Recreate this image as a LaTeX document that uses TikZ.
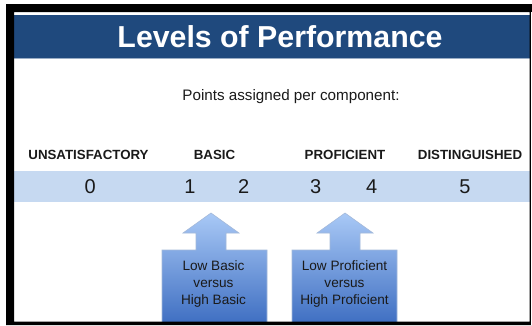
\documentclass[tikz,border=0pt]{standalone}
\usepackage{fontspec}
\setmainfont{Liberation Sans}
\definecolor{titleblue}{HTML}{1F497D}
\definecolor{bandblue}{HTML}{C6D9F1}
\definecolor{calltop}{HTML}{A9C9F6}
\definecolor{callbot}{HTML}{3F6FC2}
\definecolor{calledge}{HTML}{A3B9DA}
\definecolor{inktext}{HTML}{1A1A1A}
\tikzset{
  heading/.style={font=\fontsize{13.3}{15}\selectfont\bfseries, text=inktext, inner sep=0pt},
  score/.style={font=\fontsize{20}{22}\selectfont, text=inktext, inner sep=0pt},
  callout/.style={top color=calltop, bottom color=callbot, draw=calledge, line width=0.6pt, line join=miter},
  calltext/.style={font=\fontsize{13.6}{16.8}\selectfont, text=inktext, align=center, inner sep=0pt}
}
\begin{document}
\begin{tikzpicture}[x=1pt,y=-1pt]
\useasboundingbox (0,0) rectangle (532,325);
\fill[white] (0,0) rectangle (532,325);

% title bar
\fill[titleblue] (14,15) rectangle (529.5,57.5);
\fill[titleblue!45!white] (14,57.5) rectangle (529.5,59);
\node[text=white, font=\fontsize{30.3}{33}\selectfont\bfseries, inner sep=0pt] (title) at (280,37) {Levels of Performance};

\node[font=\fontsize{15.2}{18}\selectfont, text=inktext, inner sep=0pt] (points) at (291,97) {Points assigned per component:};

% level headings
\node[heading] (unsat) at (88.5,154.5) {UNSATISFACTORY};
\node[heading] (basic) at (214.5,154.5) {BASIC};
\node[heading] (prof) at (345,154.5) {PROFICIENT};
\node[heading] (dist) at (470,154.5) {DISTINGUISHED};

% score band
\fill[bandblue] (14,171) rectangle (529.5,202);
\node[score] (s0) at (90.3,187) {0};
\node[score] (s1) at (190,187) {1};
\node[score] (s2) at (243.6,187) {2};
\node[score] (s3) at (315.6,187) {3};
\node[score] (s4) at (371.6,187) {4};
\node[score] (s5) at (464.9,187) {5};

% up-arrow callouts
\path[callout] (162,323) -- (162,250) -- (196,250) -- (196,233) -- (183,233)
  -- (211,213) -- (239,233) -- (226,233) -- (226,250) -- (267,250) -- (267,323) -- cycle;
\node[calltext] (lowbasic) at (213.5,284) {Low Basic\\versus\\High Basic};

\path[callout] (292,323) -- (292,250) -- (330,250) -- (330,233) -- (317,233)
  -- (345,213) -- (373,233) -- (360,233) -- (360,250) -- (397,250) -- (397,323) -- cycle;
\node[calltext] (lowprof) at (344.5,284) {Low Proficient\\versus\\High Proficient};

% frame
\fill[black, even odd rule] (6,4) rectangle (532,325) (14,12) rectangle (529.5,321.5);
\fill[white] (531,12) rectangle (532,325);
\end{tikzpicture}
\end{document}
